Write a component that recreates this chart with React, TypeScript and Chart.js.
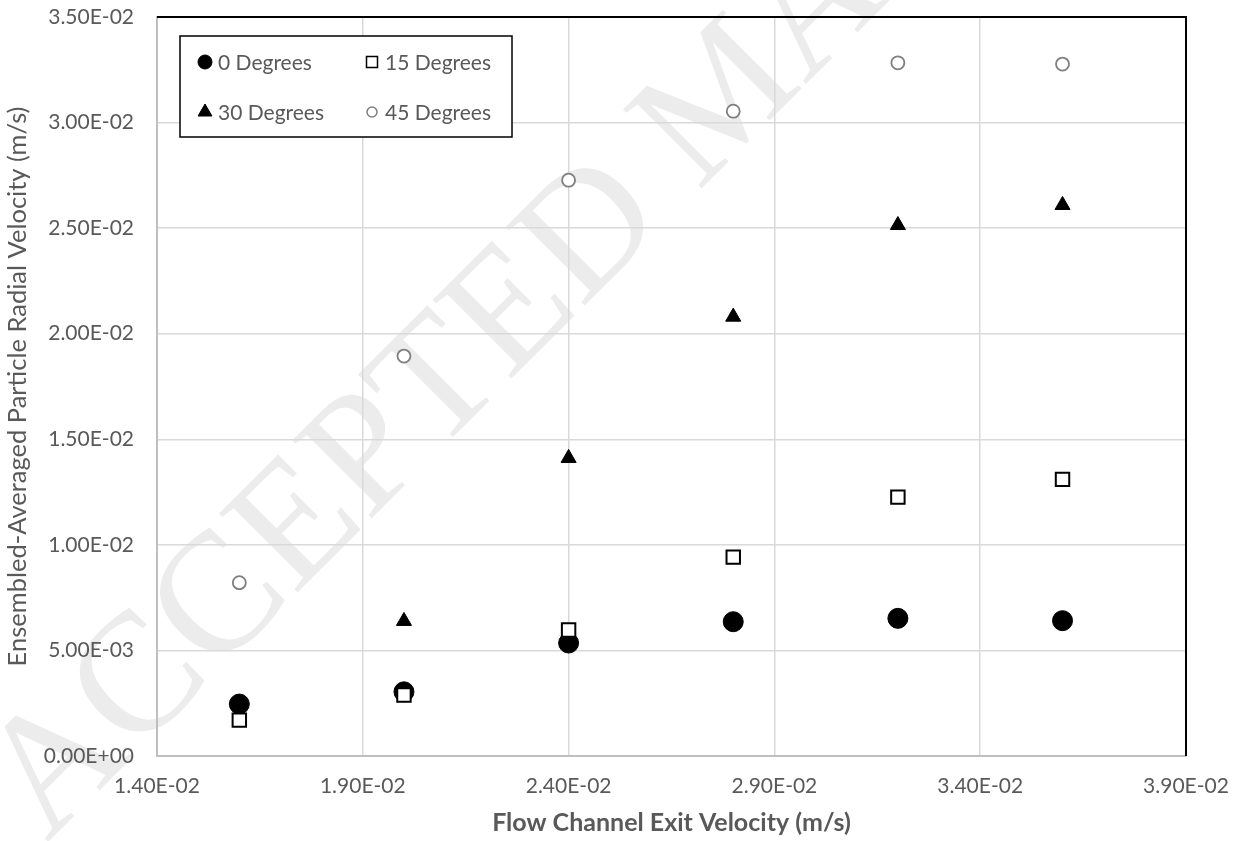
import React, { useEffect, useRef } from 'react';
import { Chart, registerables } from 'chart.js';

Chart.register(...registerables);

const xValues = [0.016, 0.02, 0.024, 0.028, 0.032, 0.036];
const deg0 = [0.00246, 0.00304, 0.00535, 0.00636, 0.00652, 0.00641];
const deg15 = [0.0017, 0.00289, 0.00597, 0.00942, 0.01226, 0.0131];
const deg30 = [0.00246, 0.00639, 0.01411, 0.0208, 0.02514, 0.02609];
const deg45 = [0.00821, 0.01894, 0.02727, 0.03054, 0.03283, 0.03277];
const seriesLabels = ['0 Degrees', '15 Degrees', '30 Degrees', '45 Degrees'];
const xTicks = [0.014, 0.019, 0.024, 0.029, 0.034, 0.039];
const yTicks = [0, 0.005, 0.01, 0.015, 0.02, 0.025, 0.03, 0.035];
const xTitle = 'Flow Channel Exit Velocity (m/s)';
const yTitle = 'Ensembled-Averaged Particle Radial Velocity (m/s)';
const watermark = 'ACCEPTED MANUSCRIPT';

const FONT = 'Lato';
const TEXT = '#595959';

function sci(v: number): string {
  if (Math.abs(v) < 1e-12) return '0.00E+00';
  const [m, e] = v.toExponential(2).split('e');
  const n = parseInt(e, 10);
  return m + 'E' + (n < 0 ? '-' : '+') + String(Math.abs(n)).padStart(2, '0');
}

function pts(ys: number[]) {
  return xValues.map((x, i) => ({ x, y: ys[i] }));
}

function drawMarker(ctx: CanvasRenderingContext2D, style: string, x: number, y: number, r: number, fill: string, stroke: string, lw: number) {
  ctx.save();
  ctx.beginPath();
  if (style === 'circle') {
    ctx.arc(x, y, r, 0, Math.PI * 2);
  } else if (style === 'rect') {
    ctx.rect(x - r, y - r, 2 * r, 2 * r);
  } else if (style === 'triangle') {
    let a = 0;
    ctx.moveTo(x + Math.sin(a) * r, y - Math.cos(a) * r);
    a += (2 * Math.PI) / 3;
    ctx.lineTo(x + Math.sin(a) * r, y - Math.cos(a) * r);
    a += (2 * Math.PI) / 3;
    ctx.lineTo(x + Math.sin(a) * r, y - Math.cos(a) * r);
    ctx.closePath();
  }
  ctx.fillStyle = fill;
  ctx.fill();
  ctx.lineWidth = lw;
  ctx.strokeStyle = stroke;
  ctx.stroke();
  ctx.restore();
}

const legendItems = [
  { label: seriesLabels[0], style: 'circle', r: 7, fill: '#000', stroke: '#000', lw: 1 },
  { label: seriesLabels[1], style: 'rect', r: 5.5, fill: '#fff', stroke: '#000', lw: 1.5 },
  { label: seriesLabels[2], style: 'triangle', r: 8, fill: '#000', stroke: '#000', lw: 1 },
  { label: seriesLabels[3], style: 'circle', r: 5, fill: '#fff', stroke: '#7f7f7f', lw: 1.5 },
];

const watermarkPlugin = {
  id: 'watermark',
  beforeDraw(chart: any) {
    const ctx = chart.ctx as CanvasRenderingContext2D;
    ctx.save();
    ctx.translate(47, 843);
    ctx.rotate(-Math.PI / 4);
    ctx.font = '170px "Liberation Serif"';
    ctx.fillStyle = '#ececec';
    ctx.textBaseline = 'alphabetic';
    ctx.fillText(watermark, 0, 0);
    ctx.restore();
  },
};

const framePlugin = {
  id: 'frameLegend',
  afterDraw(chart: any) {
    const ctx = chart.ctx as CanvasRenderingContext2D;
    const { left, top, right, bottom } = chart.chartArea;
    ctx.save();
    ctx.strokeStyle = '#000';
    ctx.lineWidth = 2;
    ctx.beginPath();
    ctx.moveTo(left, top);
    ctx.lineTo(right, top);
    ctx.lineTo(right, bottom);
    ctx.stroke();

    const bx = left + 23;
    const by = top + 19;
    const bw = 332;
    const bh = 101;
    ctx.fillStyle = '#fff';
    ctx.fillRect(bx, by, bw, bh);
    ctx.lineWidth = 1.5;
    ctx.strokeStyle = '#000';
    ctx.strokeRect(bx, by, bw, bh);

    const colX = [25, 192];
    const rowY = [26, 76];
    legendItems.forEach((it, i) => {
      const mx = bx + colX[i % 2];
      const my = by + rowY[Math.floor(i / 2)];
      drawMarker(ctx, it.style, mx, my, it.r, it.fill, it.stroke, it.lw);
      ctx.font = `21px ${FONT}`;
      ctx.fillStyle = TEXT;
      ctx.textAlign = 'left';
      ctx.textBaseline = 'middle';
      ctx.fillText(it.label, mx + 13, my + 1);
    });
    ctx.restore();
  },
};

export default function App() {
  const ref = useRef<HTMLCanvasElement>(null);
  useEffect(() => {
    document.body.style.margin = '0';
    const canvas = ref.current!;
    const chart = new Chart(canvas, {
      type: 'scatter',
      data: {
        datasets: [
          {
            label: seriesLabels[0],
            data: pts(deg0),
            pointStyle: 'circle',
            pointRadius: 10,
            pointBackgroundColor: '#000',
            pointBorderColor: '#000',
            pointBorderWidth: 1,
            order: 4,
          },
          {
            label: seriesLabels[1],
            data: pts(deg15),
            pointStyle: 'rect',
            pointRadius: 9.5,
            pointBackgroundColor: '#fff',
            pointBorderColor: '#000',
            pointBorderWidth: 2,
            order: 3,
          },
          {
            label: seriesLabels[2],
            data: pts(deg30),
            pointStyle: 'triangle',
            pointRadius: 8.7,
            pointBackgroundColor: '#000',
            pointBorderColor: '#000',
            pointBorderWidth: 1,
            order: 2,
          },
          {
            label: seriesLabels[3],
            data: pts(deg45),
            pointStyle: 'circle',
            pointRadius: 6.5,
            pointBackgroundColor: '#fff',
            pointBorderColor: '#7f7f7f',
            pointBorderWidth: 1.8,
            order: 1,
          },
        ],
      },
      options: {
        responsive: false,
        animation: false,
        layout: { padding: { top: 17, right: 53, left: 0, bottom: 0 } },
        plugins: {
          legend: { display: false },
          tooltip: { enabled: false },
        },
        scales: {
          x: {
            type: 'linear',
            min: xTicks[0],
            max: xTicks[xTicks.length - 1],
            afterBuildTicks: (s: any) => {
              s.ticks = xTicks.map((value) => ({ value }));
            },
            afterFit: (s: any) => {
              s.height = 85;
              s.paddingLeft = 0;
              s.paddingRight = 0;
            },
            grid: { color: '#d9d9d9', lineWidth: 1.5, drawTicks: false },
            border: { color: '#bfbfbf', width: 2 },
            ticks: {
              padding: 18,
              color: TEXT,
              font: { family: FONT, size: 21 },
              maxRotation: 0,
              autoSkip: false,
              callback: (v: any) => sci(Number(v)),
            },
            title: {
              display: true,
              text: xTitle,
              color: TEXT,
              font: { family: FONT, size: 25, weight: 'bold' },
              padding: { top: 0, bottom: 3 },
            },
          },
          y: {
            type: 'linear',
            min: yTicks[0],
            max: yTicks[yTicks.length - 1],
            afterBuildTicks: (s: any) => {
              s.ticks = yTicks.map((value) => ({ value }));
            },
            afterFit: (s: any) => {
              s.width = 157;
              s.paddingTop = 0;
              s.paddingBottom = 0;
            },
            grid: { color: '#d9d9d9', lineWidth: 1.5, drawTicks: false },
            border: { color: '#bfbfbf', width: 2 },
            ticks: {
              padding: 23,
              color: TEXT,
              font: { family: FONT, size: 21 },
              autoSkip: false,
              callback: (v: any) => sci(Number(v)),
            },
            title: {
              display: true,
              text: yTitle,
              color: TEXT,
              font: { family: FONT, size: 25.5 },
              padding: { top: 2, bottom: 0 },
            },
          },
        },
      },
      plugins: [watermarkPlugin, framePlugin],
    } as any);
    return () => chart.destroy();
  }, []);
  return (
    <div style={{ width: 1239, height: 841 }}>
      <canvas ref={ref} width={1239} height={841} style={{ display: 'block' }} />
    </div>
  );
}
